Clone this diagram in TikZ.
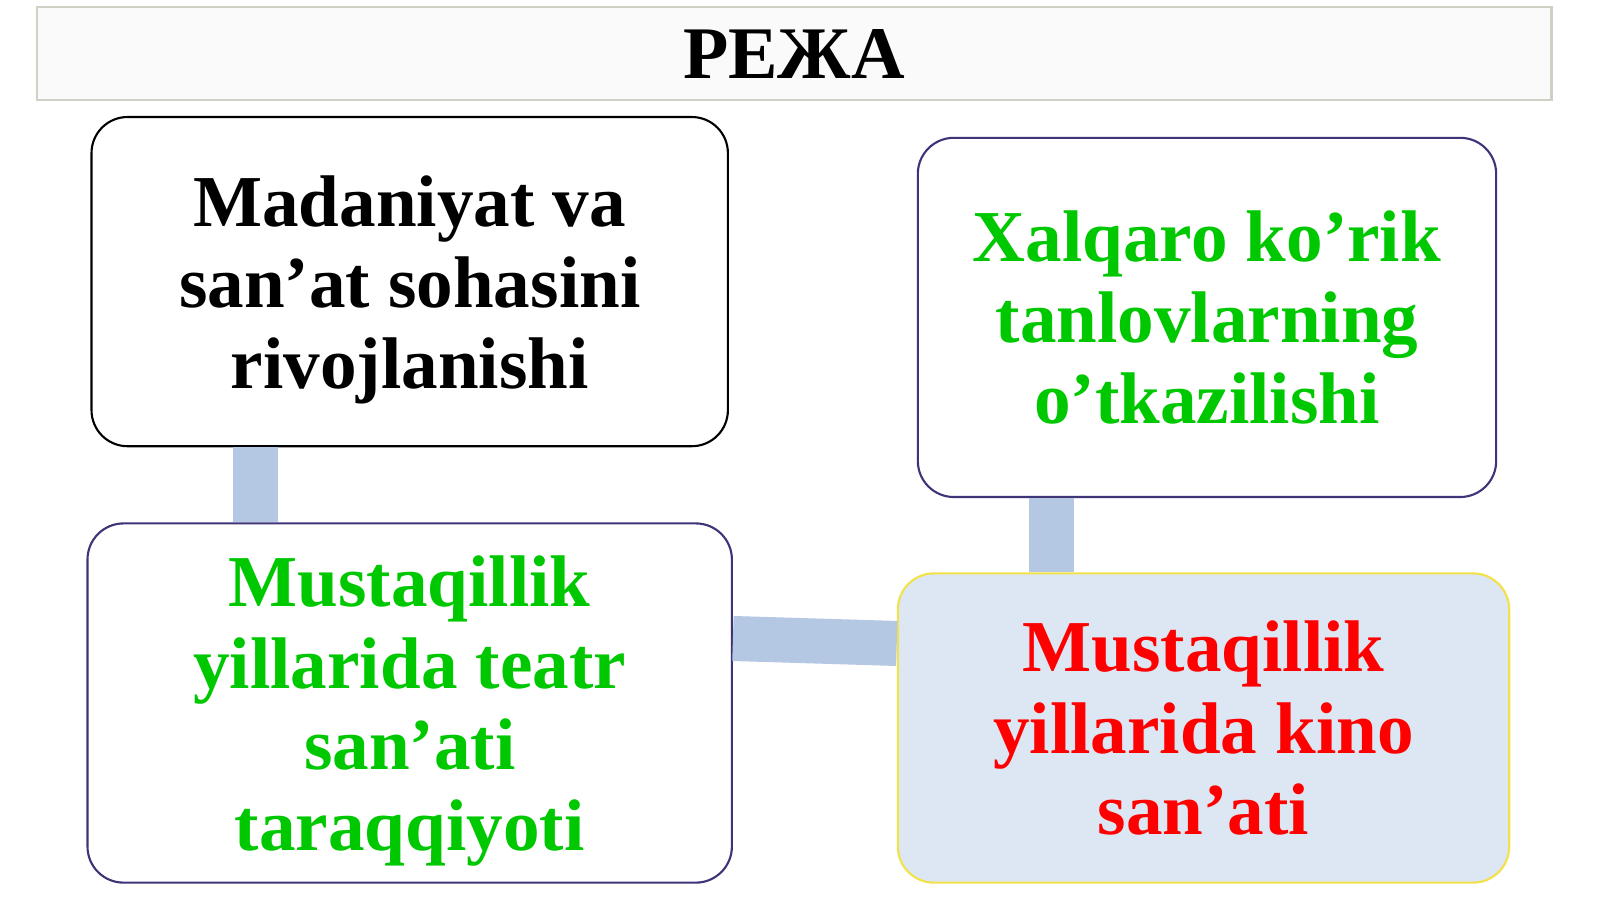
\documentclass[tikz,border=0pt]{standalone}
\usepackage{fontspec}
\setmainfont{Liberation Serif}
\usepackage{tikz}
\usetikzlibrary{positioning}
\definecolor{linkblue}{HTML}{B4C7E3}
\definecolor{kinofill}{HTML}{DDE7F3}
\definecolor{boxpurple}{HTML}{3E3478}
\definecolor{kinoedge}{HTML}{F2E24A}
\definecolor{txtgreen}{HTML}{00C800}
\definecolor{titleedge}{HTML}{CDD2C4}
% lowers the text of a box a little
\newcommand{\toppad}{\rule{0pt}{19.1pt}}
\tikzset{node distance=2cm, auto,
  planbox/.style={draw, rounded corners=0.36cm, line width=0.6pt, align=center,
    font=\fontsize{20.8}{23.1}\selectfont\bfseries, fill=white},
  link/.style={draw=linkblue, line width=0.45cm}}

\begin{document}
\begin{tikzpicture}[x=0.01cm, y=-0.01cm]
              \fill[white] (0,0) rectangle (1600,899);
              \useasboundingbox (0,0) rectangle (1600,899);

              \node (title) [draw=titleedge, fill=black!2, line width=0.6pt,
                minimum width=15.14cm, minimum height=0.93cm,
                font=\fontsize{21.1}{23}\selectfont\bfseries] at (794,53.6) {РЕЖА};

              \node (madaniyat) [planbox, minimum width=6.36cm, minimum height=3.29cm]
                at (409.7,281.6) {\toppad Madaniyat va\\san’at sohasini\\rivojlanishi};
              \node (xalqaro) [planbox, draw=boxpurple, text=txtgreen,
                minimum width=5.78cm, minimum height=3.59cm]
                at (1207,317.4) {Xalqaro ko’rik\\tanlovlarning\\o’tkazilishi};
              \node (teatr) [planbox, draw=boxpurple, text=txtgreen,
                minimum width=6.44cm, minimum height=3.59cm]
                at (409.7,703) {\toppad Mustaqillik\\yillarida teatr\\san’ati\\taraqqiyoti};
              \node (kino) [planbox, draw=kinoedge, fill=kinofill, text=red,
                minimum width=6.11cm, minimum height=3.09cm]
                at (1203.5,728) {Mustaqillik\\yillarida kino\\san’ati};

              \draw [link] ([xshift=-1.54cm]madaniyat.south) -- ([xshift=-1.54cm]teatr.north);
              \draw [link] ([xshift=-1.55cm]xalqaro.south) coordinate (xk) -- (xk |- kino.north);
              \draw [link] ([yshift=0.645cm]teatr.east) -- ([yshift=0.845cm]kino.west);
            \end{tikzpicture}
\end{document}
